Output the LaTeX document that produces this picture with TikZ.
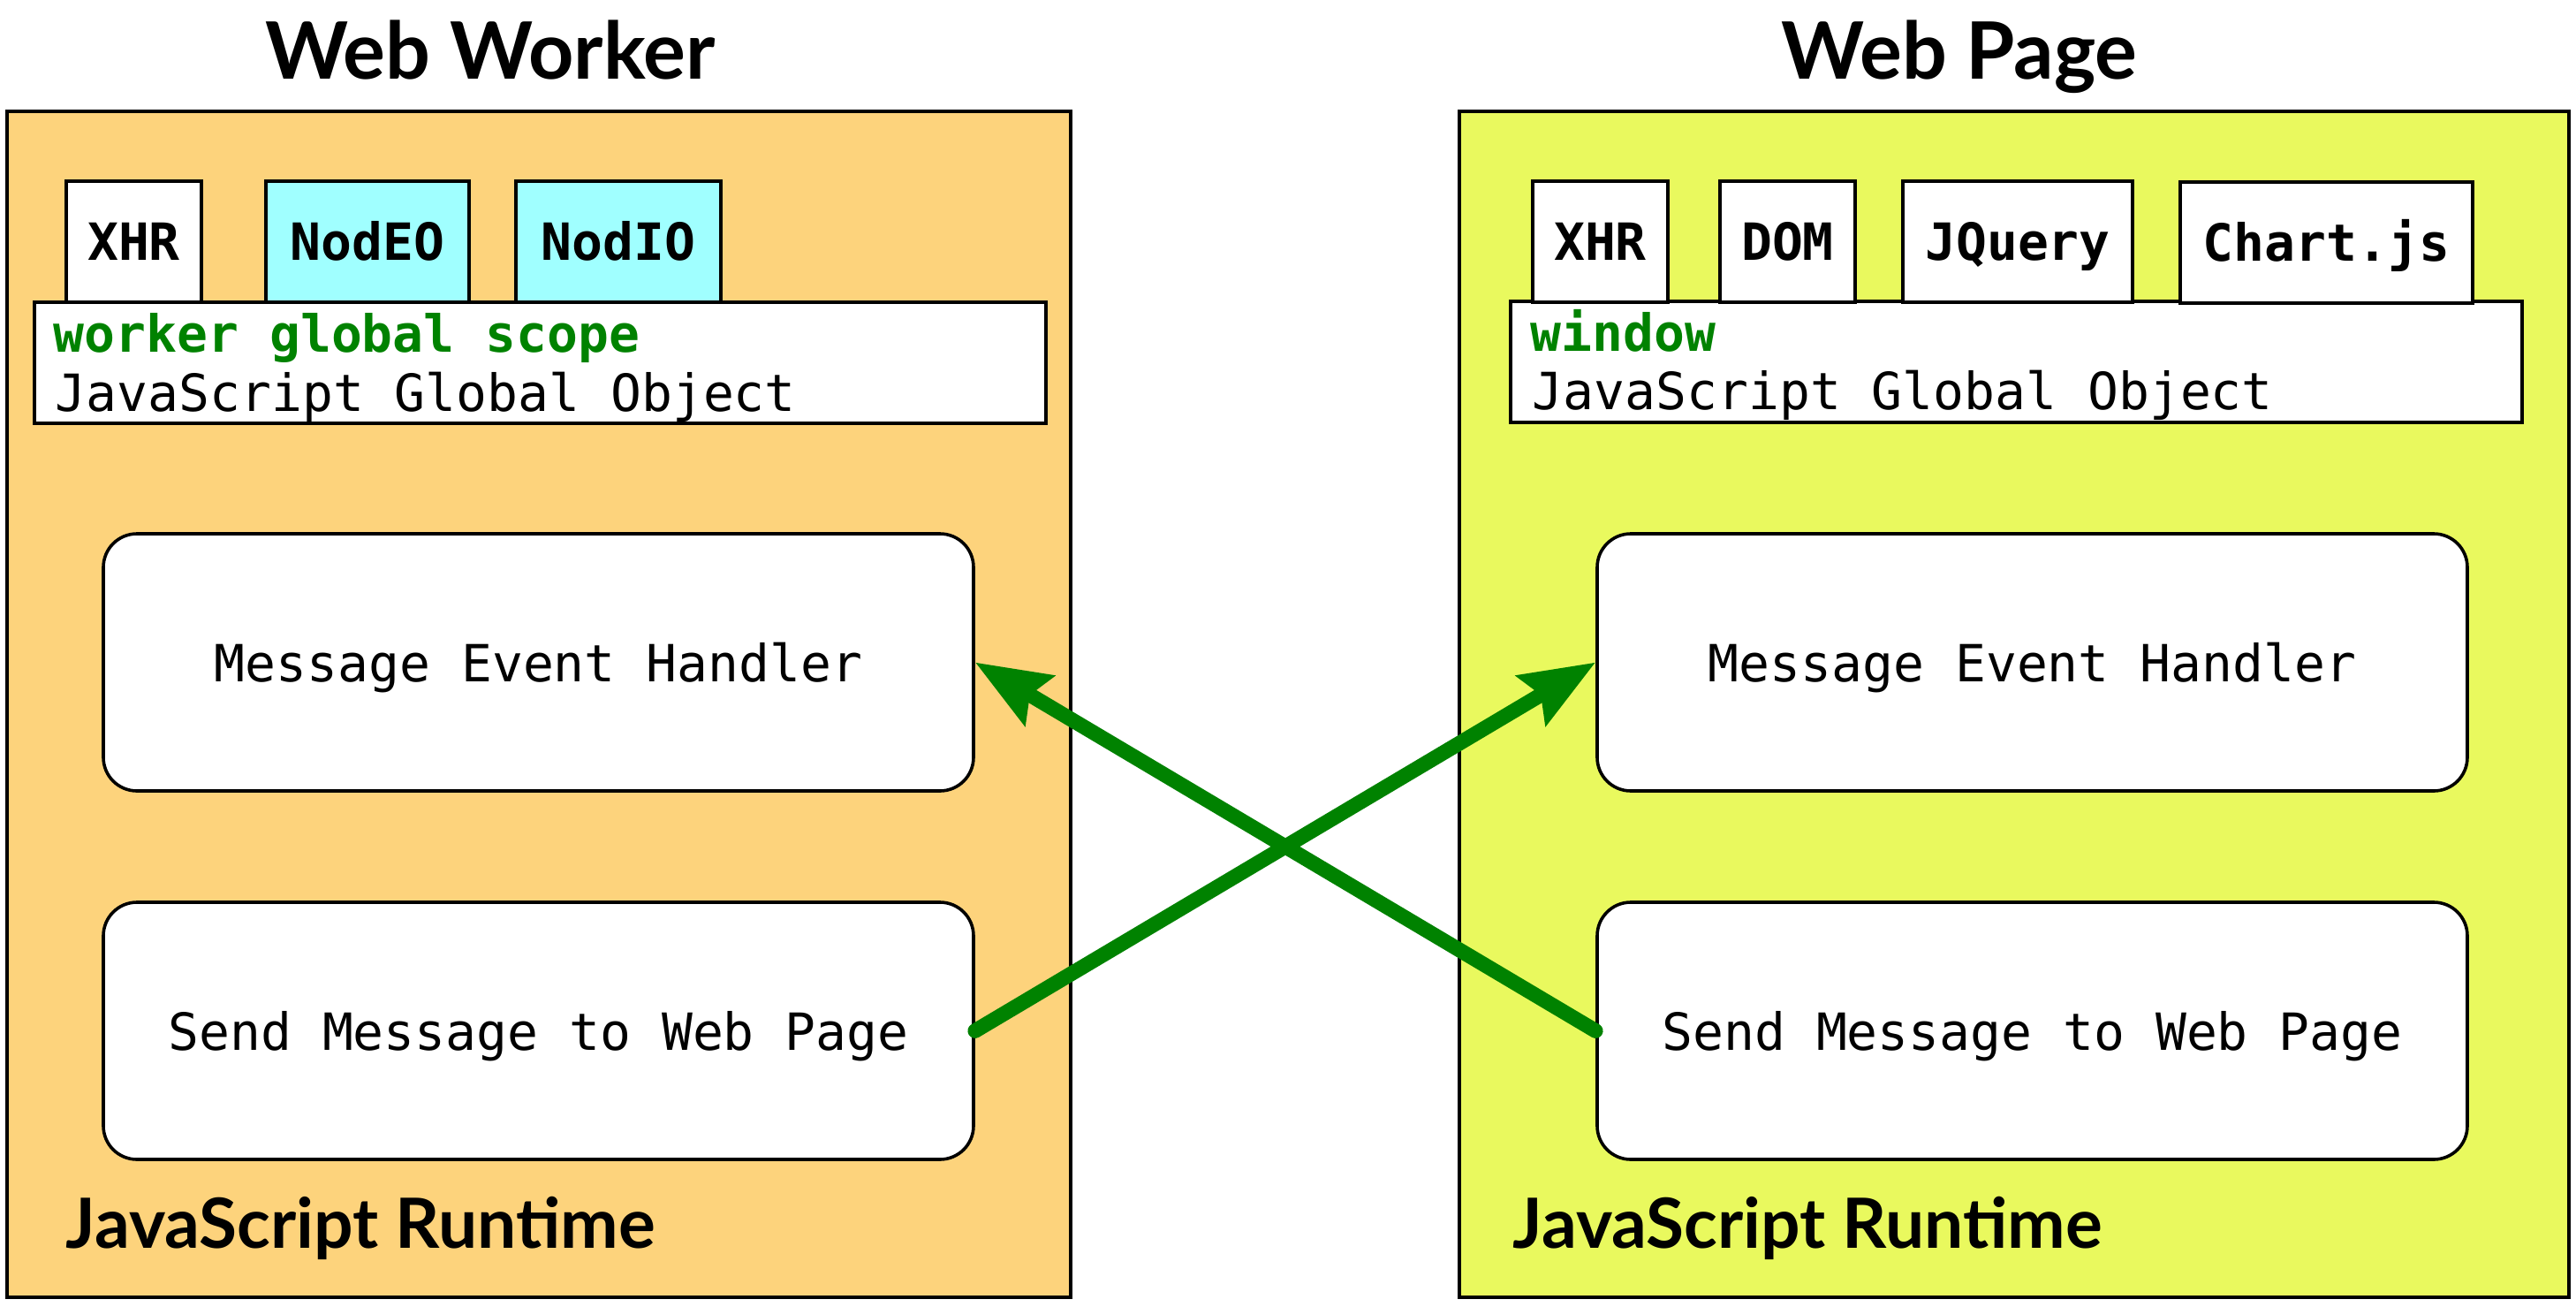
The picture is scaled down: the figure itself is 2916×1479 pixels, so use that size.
\documentclass[tikz,border=0pt]{standalone}
\usepackage{fontspec}
\setmonofont{DejaVu Sans Mono}
\newfontfamily\headfont{Lato}
\usetikzlibrary{arrows.meta}

\definecolor{workerfill}{RGB}{253,211,124}
\definecolor{pagefill}{RGB}{233,249,94}
\definecolor{libcyan}{RGB}{160,255,255}
\definecolor{jsgreen}{RGB}{0,130,0}

\tikzset{
  runtime/.style={draw=black, line width=0.9pt},
  libbox/.style={draw=black, line width=1pt, fill=white, minimum height=34.25pt, inner sep=0pt,
    font=\ttfamily\bfseries\fontsize{14.5}{17}\selectfont, text height=10.6pt, text depth=0pt},
  globbox/.style={draw=black, line width=1pt, fill=white, minimum width=286.25pt, minimum height=34.25pt, inner sep=0pt},
  globtext/.style={anchor=base west, inner sep=0pt, font=\ttfamily\fontsize{14.5}{17}\selectfont},
  handler/.style={draw=black, line width=0.9pt, fill=white, rounded corners=9.5pt,
    minimum width=246.25pt, minimum height=72.75pt, inner sep=0pt,
    font=\ttfamily\fontsize{14.5}{17}\selectfont, text height=10.75pt, text depth=0pt},
  headtext/.style={inner sep=0pt, font=\headfont\bfseries\fontsize{22.4}{26}\selectfont},
  runlabel/.style={anchor=base west, inner sep=0pt, font=\headfont\bfseries\fontsize{19.6}{23}\selectfont},
  msgarrow/.style={draw=jsgreen, line width=4.2pt, line cap=round,
    -{Stealth[length=21pt,width=16pt,inset=3pt]}}
}

\begin{document}
\begin{tikzpicture}[x=0.25pt,y=0.25pt,yscale=-1,xscale=1]
	\useasboundingbox (0,0) rectangle (2916,1479);
	
	%Shape: Rectangle [worker runtime]
	\draw [runtime, fill=workerfill] (8,126) rectangle (1212,1468);
	%Shape: Rectangle [page runtime]
	\draw [runtime, fill=pagefill] (1652,126) rectangle (2908,1468);
	
	% Text Node
	\node [headtext, anchor=base] (wtitle) at (555,89) {Web Worker};
	% Text Node
	\node [headtext, anchor=base] (ptitle) at (2218,89) {Web Page};
	
	%Global objects
	\node [globbox] (wglob) at (611.5,410.5) {};
	\node [globtext, text=jsgreen, font=\ttfamily\bfseries\fontsize{14.5}{17}\selectfont] (wscope) at (60,398) {worker global scope};
	\node [globtext] (wobj) at (62,465) {JavaScript Global Object};
	\node [globbox] (pglob) at (2282.5,409.5) {};
	\node [globtext, text=jsgreen, font=\ttfamily\bfseries\fontsize{14.5}{17}\selectfont] (pwindow) at (1732,397) {window};
	\node [globtext] (pobj) at (1734,463) {JavaScript Global Object};
	
	%Libraries
	\node [libbox, minimum width=38.25pt] (wxhr) at (151.5,273.5) {XHR};
	\node [libbox, minimum width=57.5pt, fill=libcyan] (wnodeo) at (416,273.5) {NodEO};
	\node [libbox, minimum width=58pt, fill=libcyan] (wnodio) at (700,273.5) {NodIO};
	\node [libbox, minimum width=38.25pt] (pxhr) at (1811.5,273.5) {XHR};
	\node [libbox, minimum width=38.25pt] (pdom) at (2023.5,273.5) {DOM};
	\node [libbox, minimum width=65pt] (pjquery) at (2284,273.5) {JQuery};
	\node [libbox, minimum width=82.75pt] (pchart) at (2633.5,274) {Chart.js};
	
	%Handlers
	\node [handler] (whandler) at (609.5,749.5) {Message Event Handler};
	\node [handler] (wsend) at (609.5,1166.5) {Send Message to Web Page};
	\node [handler] (phandler) at (2300.5,749.5) {Message Event Handler};
	\node [handler] (psend) at (2300.5,1166.5) {Send Message to Web Page};
	
	% Text Node
	\node [runlabel] (wrun) at (74,1412) {JavaScript Runtime};
	% Text Node
	\node [runlabel] (prun) at (1712,1412) {JavaScript Runtime};
	
	%Straight Lines
	\draw [msgarrow] (wsend.east) -- (phandler.west);
	\draw [msgarrow] (psend.west) -- (whandler.east);
	
\end{tikzpicture}
\end{document}
